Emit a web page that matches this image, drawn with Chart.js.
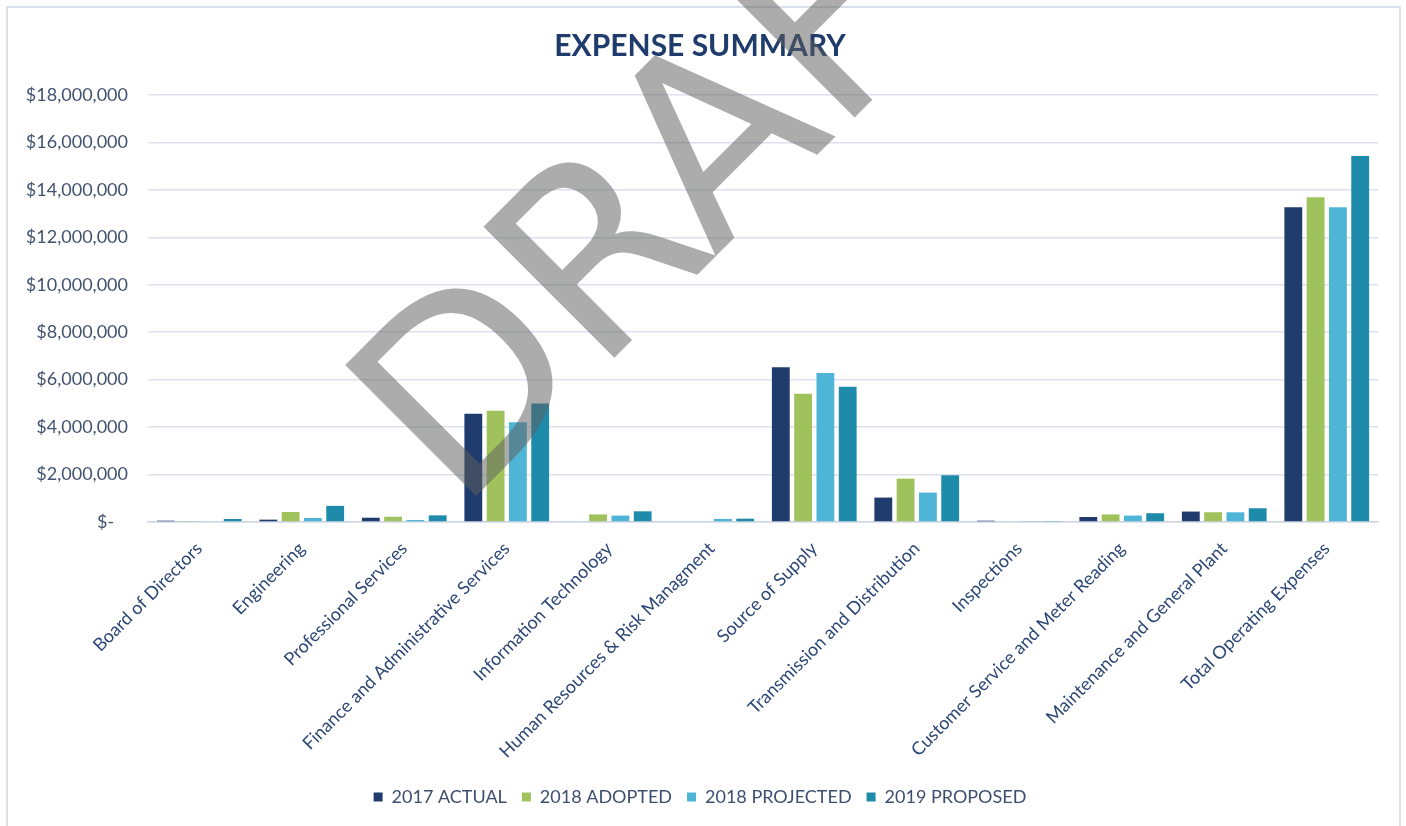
<!DOCTYPE html>
<html>
<head>
<meta charset="utf-8">
<script src="https://cdn.jsdelivr.net/npm/chart.js@4.4.1/dist/chart.umd.min.js"></script>
<style>
  html, body { margin: 0; padding: 0; background: #fff; }
  #wrap { width: 1406px; height: 826px; }
</style>
</head>
<body>
<div id="wrap"><canvas id="chart" width="1406" height="826"></canvas></div>
<script>
const categories = [
  'Board of Directors',
  'Engineering',
  'Professional Services',
  'Finance and Administrative Services',
  'Information Technology',
  'Human Resources & Risk Managment',
  'Source of Supply',
  'Transmission and Distribution',
  'Inspections',
  'Customer Service and Meter Reading',
  'Maintenance and General Plant',
  'Total Operating Expenses'
];

const actual2017 = [56000, 100000, 180000, 4560000, 0, 0, 6520000, 1030000, 55000, 210000, 440000, 13270000];
const adopted2018 = [42000, 420000, 220000, 4690000, 320000, 0, 5410000, 1830000, 0, 320000, 410000, 13690000];
const projected2018 = [0, 170000, 85000, 4200000, 270000, 130000, 6280000, 1240000, 40000, 270000, 410000, 13270000];
const proposed2019 = [127000, 680000, 280000, 5000000, 450000, 140000, 5700000, 1970000, 40000, 370000, 580000, 15430000];

const seriesLabels = ['2017 ACTUAL', '2018 ADOPTED', '2018 PROJECTED', '2019 PROPOSED'];
const seriesColors = ['#1f3c6c', '#9fc25c', '#4fb5d7', '#1e8bab'];

const yTicks = { min: 0, max: 18000000, step: 2000000 };

Chart.defaults.font.family = 'Lato, "Open Sans", sans-serif';

// light frame round the whole chart, as in the spreadsheet export
const framePlugin = {
  id: 'framePlugin',
  beforeDraw(chart) {
    const { ctx } = chart;
    ctx.save();
    ctx.fillStyle = '#ffffff';
    ctx.fillRect(0, 0, chart.width, chart.height);
    ctx.strokeStyle = '#d9e1ec';
    ctx.lineWidth = 2;
    ctx.strokeRect(7, 7, chart.width - 13, chart.height - 4);
    ctx.restore();
  }
};

// DRAFT stamp laid over the chart
const draftPlugin = {
  id: 'draftPlugin',
  afterDraw(chart) {
    const { ctx } = chart;
    ctx.save();
    ctx.translate(474, 498);
    ctx.rotate(-Math.PI / 4);
    ctx.font = '254px "DejaVu Sans"';
    ctx.textBaseline = 'alphabetic';
    ctx.fillStyle = 'rgba(95,95,95,0.52)';
    ctx.fillText('DRAFT', -22, 0);
    ctx.restore();
  }
};

function money(v) {
  if (v === 0) return '$-   ';
  return '$' + v.toLocaleString('en-US');
}

const datasets = [actual2017, adopted2018, projected2018, proposed2019].map((data, i) => ({
  label: seriesLabels[i],
  data: data,
  backgroundColor: seriesColors[i],
  borderWidth: 0,
  categoryPercentage: 0.87,
  barPercentage: 0.8
}));

new Chart(document.getElementById('chart').getContext('2d'), {
  type: 'bar',
  data: { labels: categories, datasets: datasets },
  options: {
    animation: false,
    responsive: false,
    layout: { padding: { left: 22, right: 28, top: 10, bottom: 10 } },
    scales: {
      x: {
        grid: { display: false, drawTicks: false },
        border: { display: true, color: '#cdd5e2', width: 1.5 },
        ticks: {
          color: '#2c4775',
          font: { size: 18 },
          minRotation: 45,
          maxRotation: 45,
          autoSkip: false,
          padding: 16
        },
        afterFit(scale) { scale.height = 251; }
      },
      y: {
        min: yTicks.min,
        max: yTicks.max,
        grid: { color: '#dbe2ee', lineWidth: 1.5, drawTicks: false },
        border: { display: false },
        ticks: {
          stepSize: yTicks.step,
          color: '#42536f',
          font: { size: 18 },
          padding: 20,
          callback: v => money(v)
        },
        afterFit(scale) { scale.width = 126; }
      }
    },
    plugins: {
      title: {
        display: true,
        text: 'EXPENSE SUMMARY',
        color: '#1f3c6c',
        font: { size: 30, weight: 'bold', lineHeight: 1.2 },
        padding: { top: 18, bottom: 31 }
      },
      legend: {
        position: 'bottom',
        labels: {
          color: '#3d4f6e',
          font: { size: 18 },
          boxWidth: 9,
          boxHeight: 9,
          padding: 15
        }
      },
      tooltip: { enabled: false }
    }
  },
  plugins: [framePlugin, draftPlugin]
});
</script>
</body>
</html>
